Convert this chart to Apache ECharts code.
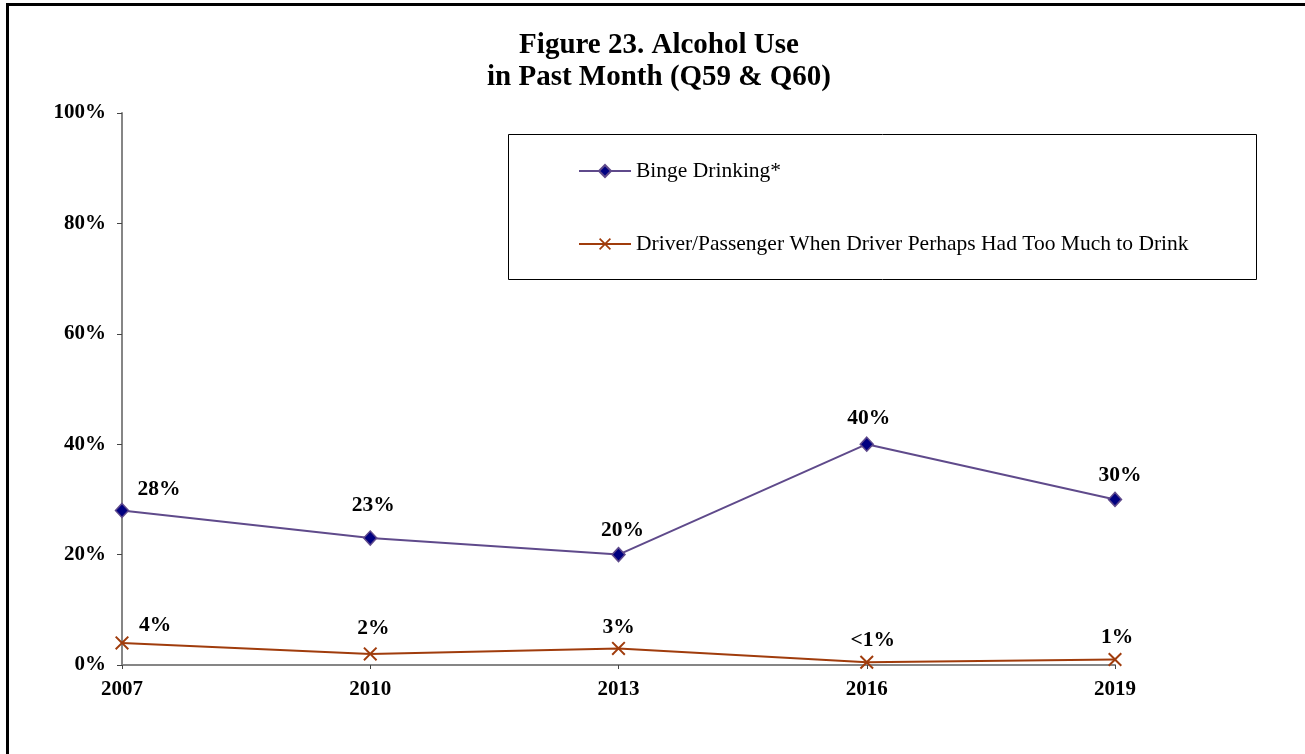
<!DOCTYPE html>
<html>
<head>
<meta charset="utf-8">
<title>Figure 23. Alcohol Use in Past Month</title>
<script src="https://cdn.jsdelivr.net/npm/echarts@6/dist/echarts.min.js"></script>
<style>
  html, body { margin: 0; padding: 0; background: #fff; }
  #chart { width: 1305px; height: 754px; }
</style>
</head>
<body>
<div id="chart"></div>
<script>
// Survey years on the category axis
const years = ['2007', '2010', '2013', '2016', '2019'];

// Percent of respondents, per year
const bingeDrinking = [28, 23, 20, 40, 30];
const riskyDriver = [4, 2, 3, 0.5, 1];

// Text printed next to each point
const bingeLabels = ['28%', '23%', '20%', '40%', '30%'];
const riskyLabels = ['4%', '2%', '3%', '<1%', '1%'];

// Y axis ticks
const yTicks = [0, 20, 40, 60, 80, 100];

const seriesNames = [
  'Binge Drinking*',
  'Driver/Passenger When Driver Perhaps Had Too Much to Drink'
];

// Label placement (pixel offsets from each point's centre)
const bingeLabelOffsets = [[37, -21], [3, -33], [4, -24], [2, -26], [5, -24]];
const riskyLabelOffsets = [[33, -17], [3, -26], [0, -21], [6, -22], [2, -22]];

const SERIF = '"Liberation Serif", "DejaVu Serif", serif';
const crossPath = 'path://M0,1 L1,0 L5,4 L9,0 L10,1 L6,5 L10,9 L9,10 L5,6 L1,10 L0,9 L4,5 Z';

function withLabels(values, labels, offsets) {
  return values.map((v, i) => ({
    value: v,
    label: { formatter: labels[i], offset: offsets[i] }
  }));
}

const labelStyle = {
  show: true,
  position: 'inside',
  fontFamily: SERIF,
  fontWeight: 'bold',
  fontSize: 21.5,
  color: '#000'
};

const chart = echarts.init(document.getElementById('chart'), null, { renderer: 'canvas' });

chart.setOption({
  backgroundColor: '#fff',
  animation: false,
  title: {
    text: 'Figure 23. Alcohol Use\nin Past Month (Q59 & Q60)',
    left: 659,
    top: 30,
    padding: 0,
    textAlign: 'center',
    textStyle: {
      fontFamily: SERIF,
      fontWeight: 'bold',
      fontSize: 29,
      lineHeight: 32,
      color: '#000'
    }
  },
  legend: {
    orient: 'vertical',
    left: 578,
    top: 160,
    padding: 0,
    itemWidth: 52,
    itemHeight: 15,
    itemGap: 51,
    textStyle: {
      fontFamily: SERIF,
      fontSize: 21.5,
      lineHeight: 22,
      color: '#000'
    },
    data: seriesNames
  },
  grid: {
    left: 122,
    right: 190,
    top: 113,
    bottom: 89,
    containLabel: false
  },
  xAxis: {
    type: 'category',
    data: years,
    boundaryGap: false,
    axisLine: { lineStyle: { color: '#868686', width: 2 } },
    axisTick: { show: true, length: 4, lineStyle: { color: '#444', width: 1 } },
    axisLabel: {
      margin: 14,
      fontFamily: SERIF,
      fontWeight: 'bold',
      fontSize: 21,
      color: '#000'
    },
    splitLine: { show: false }
  },
  yAxis: {
    type: 'value',
    min: yTicks[0],
    max: yTicks[yTicks.length - 1],
    interval: 20,
    axisLine: { show: true, lineStyle: { color: '#868686', width: 2 } },
    axisTick: { show: true, length: 5, lineStyle: { color: '#444', width: 1 } },
    axisLabel: {
      margin: 16,
      formatter: '{value}%',
      fontFamily: SERIF,
      fontWeight: 'bold',
      fontSize: 21,
      color: '#000'
    },
    splitLine: { show: false }
  },
  series: [
    {
      name: seriesNames[0],
      type: 'line',
      data: withLabels(bingeDrinking, bingeLabels, bingeLabelOffsets),
      symbol: 'diamond',
      symbolSize: [13, 14],
      showAllSymbol: true,
      lineStyle: { color: '#5f4a8b', width: 2 },
      itemStyle: { color: '#000080', borderColor: '#5f4a8b', borderWidth: 1.5 },
      label: labelStyle,
      z: 3
    },
    {
      name: seriesNames[1],
      type: 'line',
      data: withLabels(riskyDriver, riskyLabels, riskyLabelOffsets),
      symbol: crossPath,
      symbolSize: 14,
      showAllSymbol: true,
      lineStyle: { color: '#a03c0c', width: 2 },
      itemStyle: { color: '#a03c0c', borderWidth: 0 },
      label: labelStyle,
      z: 3
    }
  ],
  graphic: [
    {
      type: 'rect',
      shape: { x: 7.5, y: 4.5, width: 1320, height: 780 },
      style: { fill: 'none', stroke: '#000', lineWidth: 3 },
      silent: true
    },
    {
      type: 'rect',
      shape: { x: 508.5, y: 134.5, width: 748, height: 145 },
      style: { fill: 'none', stroke: '#000', lineWidth: 1 },
      silent: true,
      z: -1
    }
  ]
});
</script>
</body>
</html>
